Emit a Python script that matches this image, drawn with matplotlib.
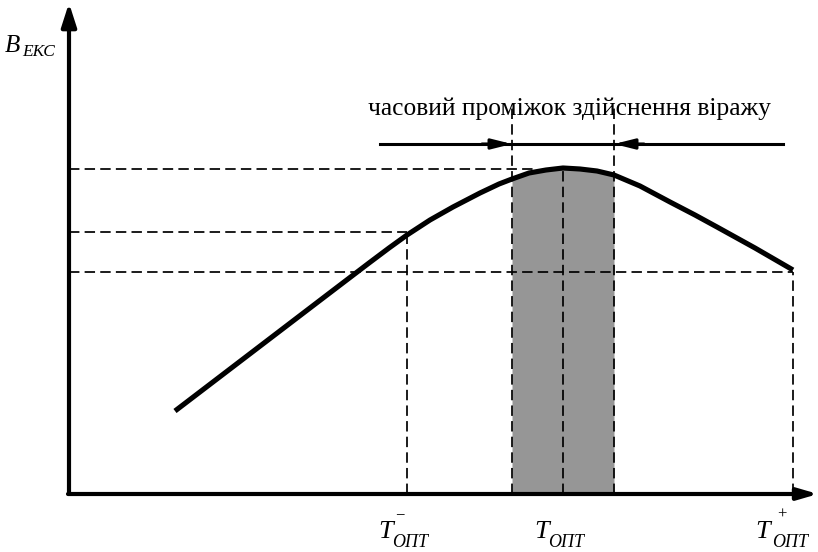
import matplotlib
matplotlib.use("Agg")
import matplotlib.pyplot as plt

plt.rcParams['font.family'] = ['Liberation Serif', 'DejaVu Serif']

# schematic data (abstract units)
t_curve = [106, 258, 300, 320, 338, 361, 384, 411, 430, 443, 460, 477, 494, 511, 528, 545, 571, 601, 626, 648, 686, 724]
b_curve = [83, 199, 231, 246, 259, 274, 287, 301, 310, 315, 321, 324, 326, 325, 323, 319, 308, 292, 279, 267, 246, 224]

t_minus, t_opt, t_plus = 338, 494, 724
t_lo, t_hi = 443, 545
b_minus, b_peak, b_plus = 262, 325, 222
b_arrow = 350
arrow_start, arrow_end = 311, 714
v_top = 389
tick_pos = [t_minus, t_opt, t_plus]
tick_main = ['T', 'T', 'T']
tick_sub = ['ОПТ', 'ОПТ', 'ОПТ']
tick_sup = ['\u2212', '', '+']
span_label = 'часовий проміжок здійснення віражу'
y_main, y_sub = 'B', 'ЕКС'

fig = plt.figure(figsize=(8.18, 5.52), dpi=100)
ax = fig.add_axes([0, 0, 1, 1])
ax.set_xlim(-69, 818 - 69)
ax.set_ylim(494 - 552, 494)
ax.axis('off')

# shaded region
idx = [i for i, t in enumerate(t_curve) if t_lo <= t <= t_hi]
ax.fill_between([t_curve[i] for i in idx], 0, [b_curve[i] for i in idx],
                color='#969696', lw=0, zorder=1)

dash = dict(color='black', lw=1.25, ls=(0, (6, 3)), zorder=2)
# horizontal dashed
ax.plot([0, t_opt - 30], [b_peak, b_peak], **dash)
ax.plot([0, t_minus], [b_minus, b_minus], **dash)
ax.plot([0, t_plus], [b_plus, b_plus], **dash)
# vertical dashed
ax.plot([t_minus, t_minus], [0, b_minus], **dash)
ax.plot([t_lo, t_lo], [0, v_top], **dash)
ax.plot([t_opt, t_opt], [0, b_curve[t_curve.index(t_opt)]], **dash)
ax.plot([t_hi, t_hi], [0, v_top], **dash)
ax.plot([t_plus, t_plus], [0, b_plus], **dash)

# curve
ax.plot(t_curve, b_curve, color='black', lw=3.7, solid_capstyle='butt',
        solid_joinstyle='round', zorder=3)

# axes with arrows
ax.annotate('', xy=(0, 491), xytext=(0, 0),
            arrowprops=dict(arrowstyle='-|>,head_length=1.4,head_width=0.45', color='black', lw=3,
                            shrinkA=0, shrinkB=0))
ax.annotate('', xy=(749, 0), xytext=(-1, 0),
            arrowprops=dict(arrowstyle='-|>,head_length=1.2,head_width=0.35', color='black', lw=3,
                            shrinkA=0, shrinkB=0))

# time-span arrows
ax.plot([arrow_start, arrow_end], [b_arrow, b_arrow], color='black', lw=2.2, zorder=3)
ax.annotate('', xy=(t_lo, b_arrow), xytext=(t_lo - 30, b_arrow),
            arrowprops=dict(arrowstyle='-|>,head_length=1.2,head_width=0.3', color='black', lw=2.2,
                            shrinkA=0, shrinkB=0))
ax.annotate('', xy=(t_hi, b_arrow), xytext=(t_hi + 30, b_arrow),
            arrowprops=dict(arrowstyle='-|>,head_length=1.2,head_width=0.3', color='black', lw=2.2,
                            shrinkA=0, shrinkB=0))
ax.text(500, 379, span_label, ha='center', va='baseline', fontsize=18.4)

# x labels
main_dx = [-29, -29, -38]
sub_dx = [-15, -15, -21]
sup_dx = [-7, 0, -11]
for p, m, s, sp, mdx, sdx, pdx in zip(tick_pos, tick_main, tick_sub, tick_sup, main_dx, sub_dx, sup_dx):
    ax.text(p + mdx, -44, m, ha='left', va='baseline', fontsize=19, style='italic')
    ax.text(p + sdx, -53, s, ha='left', va='baseline', fontsize=13, style='italic')
    if sp:
        ax.text(p + pdx, -21, sp, ha='center', va='center', fontsize=12)

# y label
ax.text(-64, 442, y_main, ha='left', va='baseline', fontsize=18, style='italic')
ax.text(-47, 438, y_sub, ha='left', va='baseline', fontsize=12.5, style='italic')

fig.savefig('out.png', dpi=100)
